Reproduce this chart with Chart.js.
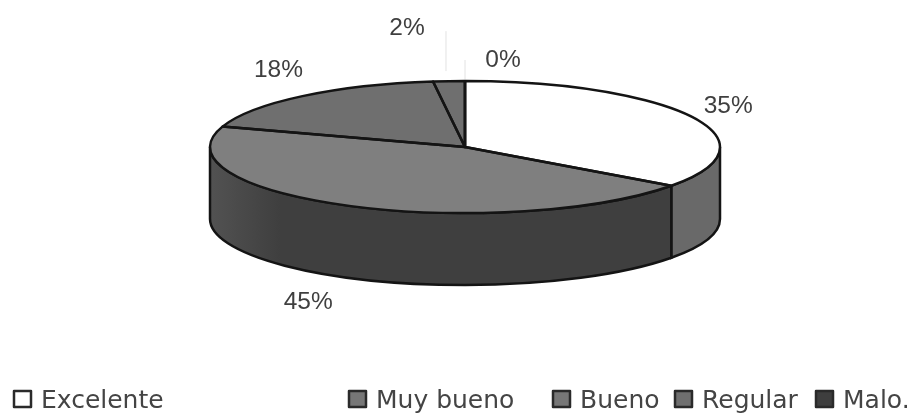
<!DOCTYPE html>
<html>
<head>
<meta charset="utf-8">
<title>Valoración</title>
<script src="https://cdn.jsdelivr.net/npm/chart.js@4"></script>
<style>
  html, body { margin: 0; padding: 0; background: #ffffff; }
  canvas { display: block; }
</style>
</head>
<body>
<canvas id="pie-canva" width="913" height="413"></canvas>
<script>
const categories = ['Excelente', 'Muy bueno', 'Bueno', 'Regular', 'Malo.'];
const percents = [35, 45, 18, 2, 0];

const topColors = ['#ffffff', '#7f7f7f', '#6f6f6f', '#6f6f6f', '#3e3e3e'];
const wallColors = ['#696969', '#3f3f3f', '#3f3f3f', '#3f3f3f', '#3f3f3f'];
const swatchColors = ['#ffffff', '#777777', '#777777', '#6f6f6f', '#3e3e3e'];

// the pie is a flat circle for chart.js, the plugin below squashes it
const stretchX = 255 / 66;
const depth = 72;
const outline = '#141414';

// label position relative to the rim point of each slice
const labelNudge = [[36, -11], [-41, 96], [-24, -26], [-42, -53], [38, -21]];
// faint leader lines above the two thin slices: x shift, gap over the rim, length
const leaders = [null, null, null, [-3, 10, 40], [0, 1, 20]];
const legendX = [13, 348, 552, 674, 815];

function rimPoint(arc, angle) {
  return {
    x: arc.x + arc.outerRadius * stretchX * Math.cos(angle),
    y: arc.y + arc.outerRadius * Math.sin(angle)
  };
}

const pie3d = {
  id: 'pie3d',
  beforeDatasetDraw(chart, args) {
    const ctx = chart.ctx;
    const arcs = args.meta.data;

    // side wall, only the part of each slice facing the front
    arcs.forEach((arc, i) => {
      const a0 = Math.max(arc.startAngle, 0);
      const a1 = Math.min(arc.endAngle, Math.PI);
      if (a1 <= a0) return;
      const rx = arc.outerRadius * stretchX;
      const ry = arc.outerRadius;
      ctx.beginPath();
      ctx.ellipse(arc.x, arc.y, rx, ry, 0, a0, a1);
      ctx.ellipse(arc.x, arc.y + depth, rx, ry, 0, a1, a0, true);
      ctx.closePath();
      // the wall lightens a little towards the left edge
      const shade = ctx.createLinearGradient(arc.x - rx, 0, arc.x - rx + 70, 0);
      shade.addColorStop(0, i === 1 ? '#525252' : wallColors[i]);
      shade.addColorStop(1, wallColors[i]);
      ctx.fillStyle = shade;
      ctx.fill();
      ctx.lineWidth = 2.5;
      ctx.strokeStyle = outline;
      ctx.stroke();
    });

    const first = arcs[0];
    ctx.save();
    ctx.translate(first.x, first.y);
    ctx.scale(stretchX, 1);
    ctx.translate(-first.x, -first.y);
  },
  afterDatasetDraw(chart, args) {
    const ctx = chart.ctx;
    ctx.restore();

    // outlines go here so the stretch does not thicken them
    args.meta.data.forEach((arc) => {
      const rx = arc.outerRadius * stretchX;
      const ry = arc.outerRadius;
      ctx.beginPath();
      ctx.moveTo(arc.x, arc.y);
      ctx.ellipse(arc.x, arc.y, rx, ry, 0, arc.startAngle, arc.endAngle);
      ctx.closePath();
      ctx.lineWidth = 2.5;
      ctx.lineJoin = 'round';
      ctx.strokeStyle = outline;
      ctx.stroke();
    });
  },
  afterDraw(chart) {
    const ctx = chart.ctx;
    const arcs = chart.getDatasetMeta(0).data;

    ctx.font = '24.5px "Liberation Sans", Arial, sans-serif';
    ctx.textAlign = 'center';
    ctx.textBaseline = 'middle';
    arcs.forEach((arc, i) => {
      const rim = rimPoint(arc, (arc.startAngle + arc.endAngle) / 2);
      if (leaders[i]) {
        const [shift, gap, length] = leaders[i];
        ctx.beginPath();
        ctx.moveTo(rim.x + shift, rim.y - gap);
        ctx.lineTo(rim.x + shift, rim.y - gap - length);
        ctx.lineWidth = 1;
        ctx.strokeStyle = '#e2e2e2';
        ctx.stroke();
      }
      ctx.fillStyle = '#3f3f3f';
      ctx.fillText(percents[i] + '%', rim.x + labelNudge[i][0], rim.y + labelNudge[i][1]);
    });

    // legend spacing is uneven, so it is placed by hand
    ctx.font = '25px "DejaVu Sans", Verdana, sans-serif';
    ctx.textAlign = 'left';
    ctx.textBaseline = 'alphabetic';
    categories.forEach((name, i) => {
      ctx.fillStyle = swatchColors[i];
      ctx.strokeStyle = '#2a2a2a';
      ctx.lineWidth = 2.5;
      ctx.fillRect(legendX[i] + 1, 391, 17, 16);
      ctx.strokeRect(legendX[i] + 1, 391, 17, 16);
      ctx.fillStyle = '#444444';
      ctx.fillText(name, legendX[i] + 28, 408);
    });
  }
};

const data = {
  labels: categories,
  datasets: [{
    data: percents,
    backgroundColor: topColors,
    borderWidth: 0,
    clip: false
  }]
};

const config = {
  type: 'pie',
  data: data,
  plugins: [pie3d],
  options: {
    responsive: false,
    animation: false,
    layout: {
      padding: { left: 17, right: 0, top: 81, bottom: 200 }
    },
    plugins: {
      legend: { display: false },
      tooltip: { enabled: false }
    }
  }
};

const chart = new Chart(document.getElementById('pie-canva'), config);
</script>
</body>
</html>
